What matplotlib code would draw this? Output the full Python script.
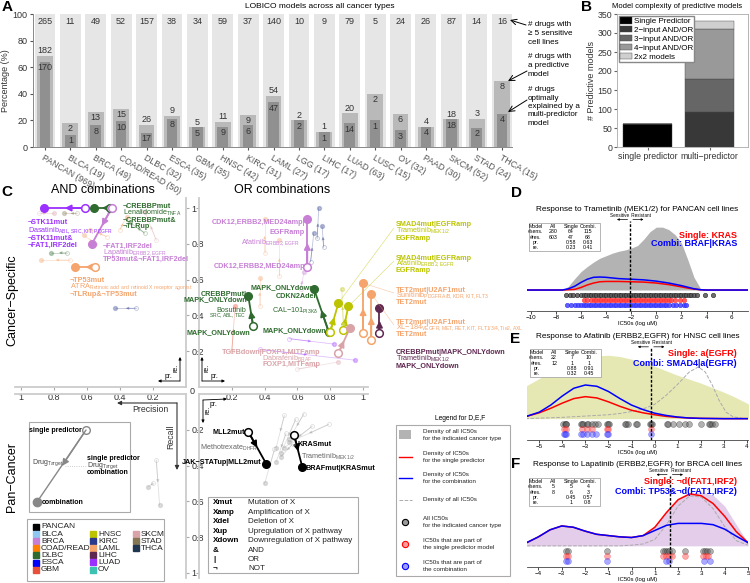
import numpy as np
import matplotlib.pyplot as plt
from matplotlib.patches import Rectangle, ConnectionPatch
from matplotlib.transforms import blended_transform_factory

plt.rcParams['font.family'] = ['Liberation Sans', 'DejaVu Sans']
plt.rcParams['mathtext.default'] = 'regular'

W, H = 750, 583

# ---------------- data: panel A
cancer_types = ['PANCAN', 'BLCA', 'BRCA', 'COAD/READ', 'DLBC', 'ESCA', 'GBM', 'HNSC', 'KIRC', 'LAML',
                'LGG', 'LIHC', 'LUAD', 'LUSC', 'OV', 'PAAD', 'SKCM', 'STAD', 'THCA']
n_cell_lines = [969, 19, 49, 50, 32, 35, 35, 42, 31, 27, 17, 17, 63, 15, 32, 30, 52, 24, 15]
n_drugs = [265, 11, 49, 52, 157, 38, 34, 59, 37, 140, 10, 9, 79, 5, 24, 26, 87, 14, 16]
n_predictive = [182, 2, 13, 15, 26, 9, 5, 11, 9, 54, 2, 1, 20, 2, 6, 4, 18, 3, 8]
n_multi = [170, 1, 8, 10, 17, 8, 5, 9, 6, 47, 2, 1, 14, 1, 3, 4, 18, 2, 4]

# ---------------- data: panel B
b_groups = ['single predictor', 'multi\u2212predictor']
complexity_labels = ['Single Predictor', '2\u2212input AND/OR', '3\u2212input AND/OR',
                     '4\u2212input AND/OR', '2x2 models']
single_pred = [60, 0]
two_input = [0, 93]
three_input = [0, 87]
four_input = [0, 130]
two_by_two = [0, 21]

# ---------------- data: panel C
colors = {'PANCAN': '#000000', 'BLCA': '#8ec7f0', 'BRCA': '#c77fd6', 'COAD/READ': '#ff8000',
          'DLBC': '#2f6b2f', 'ESCA': '#0000ff', 'GBM': '#e8503a', 'HNSC': '#bcc400',
          'KIRC': '#2b3a8c', 'LAML': '#f4a46c', 'LIHC': '#5e2750', 'LUAD': '#9b30ff',
          'OV': '#3cc2b0', 'SKCM': '#d9a3a8', 'STAD': '#857654', 'THCA': '#1f3550'}

and_types = ['LUAD', 'DLBC', 'BRCA', 'LAML']
and_single_pr = [0.61, 0.46, 0.45, 0.55]
and_single_re = [1.0, 1.0, 1.0, 0.67]
and_combi_pr = [0.86, 0.56, 0.57, 0.67]
and_combi_re = [1.0, 1.0, 0.8, 0.67]

or_types = ['BRCA', 'DLBC', 'DLBC', 'HNSC', 'HNSC', 'SKCM', 'LAML', 'LAML', 'LIHC']
or_single_pr = [0.66, 0.33, 0.79, 0.80, 0.88, 0.85, 1.0, 1.05, 1.10]
or_single_re = [0.67, 0.34, 0.31, 0.31, 0.32, 0.19, 0.30, 0.26, 0.30]
or_combi_pr = [0.66, 0.30, 0.70, 0.85, 0.91, 0.92, 1.0, 1.05, 1.10]
or_combi_re = [0.94, 0.51, 0.55, 0.47, 0.45, 0.33, 0.58, 0.52, 0.44]

pan_single_pr = [0.30, 0.58]
pan_single_re = [0.21, 0.23]
pan_combi_pr = [0.41, 0.63]
pan_combi_re = [0.39, 0.41]

and_faint = [('SKCM', 0.89, 0.97, 0.80, 0.97), ('STAD', 0.66, 0.97, 0.74, 0.97),
             ('LAML', 0.48, 0.84, 0.58, 0.88), ('LAML', 0.55, 0.80, 0.62, 0.85),
             ('DLBC', 0.72, 0.75, 0.82, 0.75), ('LAML', 0.70, 0.71, 0.88, 0.71),
             ('KIRC', 0.30, 0.44, 0.43, 0.44), ('DLBC', 0.25, 0.86, 0.34, 0.92),
             ('SKCM', 0.18, 0.82, 0.25, 0.98), ('LAML', 0.40, 0.88, 0.36, 0.95)]
or_faint = [('KIRC', 0.72, 0.83, 0.73, 1.0), ('KIRC', 0.68, 0.70, 0.70, 0.86),
            ('KIRC', 0.76, 0.78, 0.75, 0.90), ('BRCA', 0.62, 0.55, 0.64, 0.64),
            ('LAML', 0.40, 0.75, 0.40, 0.94), ('LAML', 0.49, 0.62, 0.49, 0.82),
            ('LAML', 0.37, 0.45, 0.37, 0.61), ('LUAD', 0.37, 0.21, 0.95, 0.15),
            ('LUAD', 0.55, 0.27, 0.82, 0.24), ('HNSC', 0.88, 0.35, 0.87, 0.55),
            ('GBM', 0.20, 0.20, 0.22, 0.45), ('SKCM', 0.60, 0.10, 0.85, 0.14)]
pan_faint = [(0.52, 0.12, 0.47, 0.30), (0.59, 0.14, 0.50, 0.33), (0.64, 0.11, 0.55, 0.25),
             (0.69, 0.18, 0.52, 0.30), (0.79, 0.17, 0.55, 0.27), (0.46, 0.31, 0.40, 0.50),
             (0.53, 0.22, 0.47, 0.38), (0.57, 0.28, 0.50, 0.35)]
pan_faint_left = [(0.18, 0.37, 0.16, 0.62), (0.20, 0.50, 0.23, 0.52)]

# ---------------- data: panels D, E, F
d_all_x = [-10.3, -7.5, -7, -6.5, -6, -5.5, -5, -4.5, -4, -3.5, -3, -2.5, -2, -1.5, -1, -0.5, 0, 0.5,
           1, 1.5, 2, 2.5, 3, 3.5, 4, 7.3]
d_all_y = [0, 0, 0.06, 0.18, 0.29, 0.37, 0.44, 0.50, 0.54, 0.58, 0.61, 0.63, 0.66, 0.70, 0.80, 0.92,
           0.99, 0.99, 0.95, 0.87, 0.74, 0.48, 0.20, 0.03, 0, 0]
d_red_x = [-10.3, -7.5, -6.5, -6, -5.5, -5, -4.5, -4, -3, -2, -1, 0, 1, 2, 2.5, 3, 3.5, 4, 7.3]
d_red_y = [0, 0, 0.01, 0.04, 0.08, 0.11, 0.13, 0.135, 0.135, 0.13, 0.125, 0.11, 0.085, 0.05, 0.03,
           0.015, 0.005, 0, 0]
d_blue_x = [-10.3, -7.5, -7, -6.5, -6, -5.5, -5, -4.5, -4, -3.5, -3, -2, -1, 0, 1, 2, 2.5, 3, 3.5, 4, 7.3]
d_blue_y = [0, 0, 0.02, 0.06, 0.12, 0.17, 0.20, 0.205, 0.20, 0.19, 0.18, 0.17, 0.16, 0.14, 0.11, 0.07,
            0.045, 0.02, 0.005, 0, 0]
d_pts_all = [-7.2, -6.9, -6.6, -6.3, -6.0, -5.8, -5.6, -5.4, -5.2, -5.0, -4.8, -4.6, -4.4, -4.2, -4.0,
             -3.8, -3.6, -3.4, -3.2, -3.0, -2.8, -2.6, -2.4, -2.2, -2.0, -1.8, -1.6, -1.4, -1.2, -1.0,
             -0.8, -0.6, -0.4, -0.2, 0.0, 0.2, 0.4, 0.6, 0.8, 1.0, 1.2, 1.4, 1.6, 1.8, 2.0, 2.2, 2.4,
             2.6, 2.8, 3.0, 3.2, 3.9, 4.5]
d_pts_single = [-5.8, -5.5, -5.2, -5.0, -4.8, -4.6, -4.4, -4.2, -4.0, -3.8, -3.6, -3.4, -3.2, -3.0,
                -2.8, -2.6, -2.4, -2.2, -2.0, -1.8, -1.6, -1.4, -1.2, -1.0, -0.8, -0.6, -0.4, -0.2,
                0.0, 0.2, 0.4, 0.6, 0.8, 1.0, 1.2, 1.5, 1.9, 2.2]
d_pts_combi = [-7.1, -6.8, -6.5, -6.2, -6.0, -5.8, -5.6, -5.4, -5.2, -5.0, -4.8, -4.6, -4.4, -4.2,
               -4.0, -3.8, -3.6, -3.4, -3.2, -3.0, -2.8, -2.6, -2.4, -2.2, -2.0, -1.8, -1.6, -1.4,
               -1.2, -1.0, -0.8, -0.6, -0.4, -0.2, 0.0, 0.2, 0.4, 0.6, 0.8, 1.0, 1.3, 1.6, 1.9, 2.2, 2.4]
d_thresh = -2.08
d_stats = [['Model', 'All', 'Single', 'Combi.'], ['#sens.', '280', '64', '115'],
           ['#res.', '603', '47', '68'], ['pr.', '', '0.58', '0.63'], ['re.', '', '0.23', '0.41']]

e_all_x = [-5.6, -5, -4.5, -4, -3.5, -3, -2.5, -2, -1.5, -1, -0.5, 0, 0.5, 1, 1.5, 2, 2.5, 3, 3.5, 4, 4.1]
e_all_y = [0.50, 0.62, 0.72, 0.80, 0.87, 0.93, 0.97, 0.98, 0.96, 0.92, 0.87, 0.81, 0.74, 0.67, 0.61,
           0.55, 0.48, 0.41, 0.33, 0.24, 0.22]
e_curve_x = [-5.6, -5, -4.5, -4, -3.5, -3, -2.5, -2, -1.5, -1, -0.5, 0, 0.5, 1, 1.5, 2, 3, 4.1]
e_red_y = [0.03, 0.09, 0.16, 0.24, 0.31, 0.34, 0.32, 0.26, 0.19, 0.13, 0.09, 0.06, 0.035, 0.02, 0.01,
           0.004, 0, 0]
e_blue_y = [0.03, 0.10, 0.21, 0.35, 0.47, 0.52, 0.50, 0.42, 0.31, 0.21, 0.14, 0.085, 0.05, 0.025,
            0.01, 0.004, 0, 0]
e_dash_x = [-5.6, -4, -3, -2, -1.5, -1, -0.5, 0, 0.5, 1.0, 1.5, 1.9, 2.2, 2.5, 2.8, 3.1, 3.4, 3.8, 4.1]
e_dash_y = [0.0, 0.02, 0.04, 0.06, 0.08, 0.11, 0.15, 0.22, 0.36, 0.53, 0.72, 0.80, 0.72, 0.52, 0.28,
            0.10, 0.03, 0.005, 0]
e_pts_all = [-3.95, -3.9, -3.85, -3.82, -3.2, -3.15, -3.1, -2.95, -2.9, -2.7, -2.6, -2.45, -2.05,
             -2.02, -1.98, -1.3, -1.25, -1.15, -0.8, -0.75, -0.18, -0.15, -0.12, 0.55, 0.6, 0.8, 1.05,
             1.3, 1.5, 2.0, 2.35, 2.4, 2.5, 2.6]
e_pts_single = [-3.93, -3.85, -3.15, -2.95, -2.7, -2.05, -2.0, -0.15]
e_pts_combi = [-3.93, -3.88, -3.85, -3.2, -3.1, -2.95, -2.7, -2.55, -2.05, -2.0, -0.15]
e_thresh = -0.15
e_stats = [['Model', 'All', 'Single', 'Combi.'], ['#sens.', '22', '7', '10'],
           ['#res.', '12', '1', '1'], ['pr.', '', '0.88', '0.91'], ['re.', '', '0.32', '0.45']]

f_curve_x = [-4.5, -4, -3.5, -3, -2.5, -2, -1.5, -1, -0.5, 0, 0.5, 1, 1.5, 2, 2.5, 3, 3.5, 4, 4.5, 5]
f_all_y = [0.05, 0.14, 0.25, 0.31, 0.29, 0.23, 0.18, 0.16, 0.14, 0.13, 0.16, 0.30, 0.53, 0.73, 0.82,
           0.84, 0.79, 0.62, 0.33, 0.05]
f_blue_y = [0.05, 0.14, 0.25, 0.31, 0.29, 0.23, 0.18, 0.16, 0.14, 0.13, 0.16, 0.24, 0.32, 0.35, 0.35,
            0.35, 0.33, 0.26, 0.15, 0.05]
f_red_y = [0.05, 0.14, 0.25, 0.31, 0.29, 0.23, 0.18, 0.16, 0.14, 0.13, 0.16, 0.29, 0.52, 0.72, 0.81,
           0.78, 0.66, 0.46, 0.22, 0.05]
f_dash_y = [0, 0, 0, 0, 0, 0, 0, 0, 0, 0.01, 0.03, 0.10, 0.33, 0.62, 0.78, 0.76, 0.58, 0.30, 0.08, 0.01]
f_pts_all = [-2.82, -2.72, -1.04, 1.36, 1.45, 1.52, 1.6, 1.72, 2.29, 3.05, 3.15, 3.25, 3.36]
f_pts_single = [-2.82, -2.72, -1.04, 1.36, 1.5, 1.6, 1.72, 2.29, 3.05, 3.2, 3.3]
f_pts_combi = [-2.82, -2.72, -1.04, 1.5, 1.6, 3.1, 3.36]
f_thresh = 1.64
f_stats = [['Model', 'All', 'Single', 'Combi.'], ['#sens.', '5', '5', '4'],
           ['#res.', '8', '6', '3'], ['pr.', '', '0.45', '0.57'], ['re.', '', '1', '0.8']]


fig = plt.figure(figsize=(W / 100, H / 100), dpi=100)


def px_axes(x0, y0, x1, y1, **kw):
    return fig.add_axes([x0 / W, 1 - y1 / H, (x1 - x0) / W, (y1 - y0) / H], **kw)


def sub(drug, target):
    return drug + r'$_{' + target.replace(' ', r'\ ') + '}$'


# overlay in pixel coords for free text, boxes and panel letters
ov = px_axes(0, 0, W, H, zorder=10)
ov.set_xlim(0, W)
ov.set_ylim(H, 0)
ov.axis('off')

# ======================= Panel A
axA = px_axes(33, 14, 512, 147)
xa = np.arange(len(cancer_types))
tot = np.array(n_drugs, float)
pred_pct = 100 * np.array(n_predictive) / tot
multi_pct = 100 * np.array(n_multi) / tot
axA.bar(xa, np.full(len(xa), 100.0), width=0.82, color='#e6e6e6', zorder=1)
axA.bar(xa, pred_pct, width=0.62, color='#b9b9b9', zorder=2)
axA.bar(xa, multi_pct, width=0.42, color='#909090', zorder=3)
for i in xa:
    axA.text(i, 94.5, str(n_drugs[i]), ha='center', va='center', fontsize=6.5, color='#333', zorder=5)
    if pred_pct[i] - multi_pct[i] < 7.8:
        axA.text(i, pred_pct[i] + 0.6, str(n_predictive[i]), ha='center', va='bottom',
                 fontsize=6.5, color='#333', zorder=5)
    else:
        axA.text(i, pred_pct[i] - 1, str(n_predictive[i]), ha='center', va='top',
                 fontsize=6.5, color='#333', zorder=5)
    axA.text(i, multi_pct[i] - 1, str(n_multi[i]), ha='center', va='top', fontsize=6.5,
             color='#333', zorder=5)
axA.set_xlim(-0.47, 18.39)
axA.set_ylim(0, 100)
axA.set_yticks(range(0, 101, 20))
axA.set_xticks(xa)
axA.set_xticklabels([f'{c} ({n})' for c, n in zip(cancer_types, n_cell_lines)], rotation=-30,
                    ha='left', va='top', rotation_mode='anchor', fontsize=6.3, color='#333')
axA.tick_params(axis='y', labelsize=6.5, length=2.5, colors='#555', labelcolor='#333', pad=1.5)
axA.tick_params(axis='x', length=2.5, colors='#555', pad=2)
for s in ['top', 'right']:
    axA.spines[s].set_visible(False)
for s in ['left', 'bottom']:
    axA.spines[s].set_color('#888')
    axA.spines[s].set_linewidth(0.7)
axA.set_ylabel('Percentage (%)', fontsize=6.5, color='#333')
axA.yaxis.set_label_coords(-0.048, 0.5)
ov.text(320, 7, 'LOBICO models across all cancer types', ha='center', va='center', fontsize=6)

ov.text(528, 21, '# drugs with\n\u2265 5 sensitive\ncell lines', fontsize=5.8, va='top',
        linespacing=1.35, ha='left')
ov.text(528, 53, '# drugs with\na predictive\nmodel', fontsize=5.8, va='top', linespacing=1.35)
ov.text(528, 86, '# drugs\noptimally\nexplained by a\nmulti-predictor\nmodel', fontsize=5.8,
        va='top', linespacing=1.3)
arrow_kw = dict(arrowstyle='->', lw=0.7, color='k', shrinkA=0, shrinkB=0)
ov.annotate('', xy=(510, 20), xytext=(526, 25), arrowprops=arrow_kw)
ov.annotate('', xy=(508, 81), xytext=(527, 71), arrowprops=arrow_kw)
ov.annotate('', xy=(508, 112), xytext=(527, 100), arrowprops=arrow_kw)

# ======================= Panel B
axB = px_axes(617, 14, 748, 147)
xb = np.array([1, 2])
bottom = np.zeros(2)
for lab, vals, col in zip(complexity_labels,
                          [single_pred, two_input, three_input, four_input, two_by_two],
                          ['#000000', '#383838', '#666666', '#999999', '#cfcfcf']):
    axB.bar(xb, vals, 0.79, bottom=bottom, color=col, label=lab, edgecolor='#444', linewidth=0.3)
    bottom += np.array(vals)
axB.set_xlim(0.5, 2.62)
axB.set_ylim(0, 350)
axB.set_yticks(range(0, 351, 50))
axB.set_xticks(xb)
axB.set_xticklabels(b_groups, fontsize=6)
axB.tick_params(labelsize=6.3, length=2, colors='#666', labelcolor='#333', pad=1.5)
for s in axB.spines.values():
    s.set_color('#aaa')
    s.set_linewidth(0.6)
axB.set_ylabel('# Predictive models', fontsize=6.5, labelpad=1, color='#333')
axB.legend(loc='upper left', fontsize=5.8, handlelength=1.5, handleheight=0.9, borderpad=0.15,
           labelspacing=0.1, handletextpad=0.25, fancybox=False, edgecolor='#888',
           borderaxespad=0.2, framealpha=1)
ov.text(677, 6, 'Model complexity of predictive models', ha='center', va='center', fontsize=5.5)

# ======================= Panel C
axUL = px_axes(15, 198, 186, 387)
axUR = px_axes(199, 198, 368, 387)
axLL = px_axes(15, 394, 186, 578)
axLR = px_axes(199, 394, 368, 578)
for ax in (axUL, axLL):
    ax.set_xlim(1.036, 0)
for ax in (axUR, axLR):
    ax.set_xlim(0, 1.03)
axUL.set_ylim(0, 1.056)
axUR.set_ylim(0, 1.056)
axLL.set_ylim(1.028, 0)
axLR.set_ylim(1.028, 0)

ticks = [0.2, 0.4, 0.6, 0.8, 1.0]
ticklabs = ['0.2', '0.4', '0.6', '0.8', '1']
for ax, vis in ((axUL, ['right', 'bottom']), (axUR, ['left', 'bottom']),
                (axLL, ['right', 'top']), (axLR, ['left', 'top'])):
    for s in ax.spines:
        ax.spines[s].set_visible(s in vis)
        ax.spines[s].set_color('#cccccc')
        ax.spines[s].set_linewidth(1.3)
    ax.patch.set_alpha(0)
    ax.tick_params(colors='#aaa', labelcolor='#333', labelsize=6.5, length=2.5, pad=1.5)
    ax.set_yticks(ticks)
    ax.set_yticklabels(ticklabs)
for ax in (axUL, axLL):
    ax.yaxis.tick_right()
for ax in (axUR, axLR):
    ax.tick_params(axis='y', labelleft=False)
for ax in (axUL, axUR):
    ax.set_xticks(ticks)
    ax.set_xticklabels(ticklabs)
for ax in (axLL, axLR):
    ax.set_xticks([])
ov.text(192, 391, '0', fontsize=6.5, ha='center', va='center', color='#333')


def track(ax, spr, sre, cpr, cre, color, faint=False):
    a = 0.3 if faint else 1.0
    ms = 2.8 if faint else 5.5
    lw = 0.6 if faint else 1.3
    ax.plot([spr, cpr], [sre, cre], color=color, lw=lw, alpha=a, clip_on=False, zorder=3)
    mid = ((spr + cpr) / 2, (sre + cre) / 2)
    ax.annotate('', xy=mid, xytext=(spr, sre), annotation_clip=False,
                arrowprops=dict(arrowstyle='-|>', color=color, lw=lw, alpha=a, shrinkA=0,
                                shrinkB=0, mutation_scale=4 if faint else 9))
    ax.plot(spr, sre, 'o', mfc='white', mec=color, mew=0.6 if faint else 1.1, ms=ms, alpha=a,
            clip_on=False, zorder=4)
    ax.plot(cpr, cre, 'o', color=color, ms=ms, alpha=a, clip_on=False, zorder=4)


for t, a1, b1, a2, b2 in and_faint:
    track(axUL, a1, b1, a2, b2, colors[t], faint=True)
for t, a1, b1, a2, b2 in or_faint:
    track(axUR, a1, b1, a2, b2, colors[t], faint=True)
for a1, b1, a2, b2 in pan_faint:
    track(axLR, a1, b1, a2, b2, '#999999', faint=True)
for a1, b1, a2, b2 in pan_faint_left:
    track(axLL, a1, b1, a2, b2, '#999999', faint=True)
for i, t in enumerate(and_types):
    track(axUL, and_single_pr[i], and_single_re[i], and_combi_pr[i], and_combi_re[i], colors[t])
for i, t in enumerate(or_types):
    track(axUR, or_single_pr[i], or_single_re[i], or_combi_pr[i], or_combi_re[i], colors[t])
for i in range(len(pan_single_pr)):
    track(axLR, pan_single_pr[i], pan_single_re[i], pan_combi_pr[i], pan_combi_re[i], 'k')

c_labels = [
    (28, 223, '\u00acSTK11mut', 'LUAD', 'bold', 'left'),
    (28, 231, sub('Dasatinib', 'ABL,SRC,KIT,PDGFR'), 'LUAD', 'normal', 'left'),
    (28, 238, '\u00acSTK11mut&', 'LUAD', 'bold', 'left'),
    (28, 245, '\u00acFAT1,IRF2del', 'LUAD', 'bold', 'left'),
    (123, 207, '\u00acCREBBPmut', 'DLBC', 'bold', 'left'),
    (123, 213, sub('Lenalidomide', 'TNFA'), 'DLBC', 'normal', 'left'),
    (123, 220, '\u00acCREBBPmut&', 'DLBC', 'bold', 'left'),
    (123, 227, '\u00acTLRup', 'DLBC', 'bold', 'left'),
    (103, 246, '\u00acFAT1,IRF2del', 'BRCA', 'bold', 'left'),
    (103, 252, sub('Lapatinib', 'ERBB2,EGFR'), 'BRCA', 'normal', 'left'),
    (103, 259, 'TP53mut&\u00acFAT1,IRF2del', 'BRCA', 'bold', 'left'),
    (70, 281, '\u00acTP53mut', 'LAML', 'bold', 'left'),
    (70, 287, sub('ATRA', 'Retinoic acid and retinoid X receptor agonist'), 'LAML', 'normal', 'left'),
    (70, 294, '\u00acTLRup&\u00acTP53mut', 'LAML', 'bold', 'left'),
    (305, 222, 'CDK12,ERBB2,MED24amp|', 'BRCA', 'bold', 'right'),
    (305, 232, 'EGFRamp', 'BRCA', 'bold', 'right'),
    (300, 243, sub('Afatinib', 'ERBB2,EGFR'), 'BRCA', 'normal', 'right'),
    (305, 267, 'CDK12,ERBB2,MED24amp', 'BRCA', 'bold', 'right'),
    (247, 294, 'CREBBPmut|', 'DLBC', 'bold', 'right'),
    (247, 300, 'MAPK_ONLYdown', 'DLBC', 'bold', 'right'),
    (246, 310, 'Bosutinib', 'DLBC', 'normal', 'right'),
    (246, 316, r'$_{SRC,ABL,TEC}$', 'DLBC', 'normal', 'right'),
    (250, 333, 'MAPK_ONLYdown', 'DLBC', 'bold', 'right'),
    (316, 288, 'MAPK_ONLYdown|', 'DLBC', 'bold', 'right'),
    (316, 296, 'CDKN2Adel', 'DLBC', 'bold', 'right'),
    (318, 311, sub('CAL\u2212101', 'PI3K\u03b4'), 'DLBC', 'normal', 'right'),
    (326, 331, 'MAPK_ONLYdown', 'DLBC', 'bold', 'right'),
    (320, 352, 'TGFBdown|FOXP1,MITFamp', 'SKCM', 'bold', 'right'),
    (313, 359, sub('Dabrafenib', 'BRAF'), 'SKCM', 'normal', 'right'),
    (320, 365, 'FOXP1,MITFamp', 'SKCM', 'bold', 'right'),
    (396, 225, 'SMAD4mut|EGFRamp', 'HNSC', 'bold', 'left'),
    (396, 231, sub('Trametinib', 'MEK1/2'), 'HNSC', 'normal', 'left'),
    (396, 238, 'EGFRamp', 'HNSC', 'bold', 'left'),
    (396, 258, 'SMAD4mut|EGFRamp', 'HNSC', 'bold', 'left'),
    (396, 264, sub('Afatinib', 'ERBB2,EGFR'), 'HNSC', 'normal', 'left'),
    (396, 270, 'EGFRamp', 'HNSC', 'bold', 'left'),
    (396, 290, 'TET2mut|U2AF1mut', 'LAML', 'bold', 'left'),
    (396, 296, sub('Sunitinib', 'PDGFRA/B,KDR,KIT,FLT3'), 'LAML', 'normal', 'left'),
    (396, 302, 'TET2mut', 'LAML', 'bold', 'left'),
    (396, 322, 'TET2mut|U2AF1mut', 'LAML', 'bold', 'left'),
    (396, 328, sub('XL\u2212184', 'VEGFR,MET,RET,KIT,FLT1/3/4,Tie2,AXL'), 'LAML', 'normal', 'left'),
    (396, 334, 'TET2mut', 'LAML', 'bold', 'left'),
    (396, 353, 'CREBBPmut|MAPK_ONLYdown', 'LIHC', 'bold', 'left'),
    (396, 359, sub('Trametinib', 'MEK1/2'), 'LIHC', 'normal', 'left'),
    (396, 366, 'MAPK_ONLYdown', 'LIHC', 'bold', 'left'),
    (245, 432, 'MLL2mut', 'PANCAN', 'bold', 'right'),
    (258, 448, sub('Methotrexate', 'DHFR'), '#666666', 'normal', 'right'),
    (262, 463, 'JAK\u2212STATup|MLL2mut', 'PANCAN', 'bold', 'right'),
    (298, 445, 'KRASmut', 'PANCAN', 'bold', 'left'),
    (301, 457, sub('Trametinib', 'MEK1/2'), '#666666', 'normal', 'left'),
    (306, 468, 'BRAFmut|KRASmut', 'PANCAN', 'bold', 'left'),
]
for x, y, s, c, w, ha in c_labels:
    ov.text(x, y, s, color=colors.get(c, c), fontweight=w, ha=ha, va='center', fontsize=5.2)

# leader lines from right hand labels
for (lx, ly), i in (((394, 228), 3), ((394, 261), 4), ((394, 293), 6), ((394, 325), 7)):
    cp = ConnectionPatch(xyA=(lx, ly), coordsA=ov.transData,
                         xyB=(or_combi_pr[i], or_combi_re[i]), coordsB=axUR.transData,
                         color=colors[or_types[i]], lw=0.4, alpha=0.6, zorder=2)
    fig.add_artist(cp)

ov.text(103, 190, 'AND combinations', ha='center', va='center', fontsize=9)
ov.text(282, 190, 'OR combinations', ha='center', va='center', fontsize=9)
ov.text(12, 300, 'Cancer\u2212Specific', rotation=90, ha='center', va='center', fontsize=9)
ov.text(12, 477, 'Pan\u2212Cancer', rotation=90, ha='center', va='center', fontsize=9)

# small direction arrows
small = dict(arrowstyle='-|>', lw=0.6, color='k', mutation_scale=4, shrinkA=0, shrinkB=0)
ov.annotate('', xy=(180, 357), xytext=(180, 381), arrowprops=small)
ov.annotate('', xy=(158, 381), xytext=(180, 381), arrowprops=small)
ov.text(176, 368, 're.', rotation=90, fontsize=5, ha='center', va='center')
ov.text(168, 376, 'pr.', fontsize=5, ha='center', va='center')
ov.annotate('', xy=(202, 357), xytext=(202, 381), arrowprops=small)
ov.annotate('', xy=(225, 381), xytext=(202, 381), arrowprops=small)
ov.text(207, 368, 're.', rotation=90, fontsize=5, ha='center', va='center')
ov.text(214, 376, 'pr.', fontsize=5, ha='center', va='center')
ov.annotate('', xy=(203, 423), xytext=(203, 400), arrowprops=small)
ov.annotate('', xy=(227, 399), xytext=(203, 400), arrowprops=small)
ov.text(208, 410, 're.', rotation=90, fontsize=5, ha='center', va='center')
ov.text(213, 404, 'pr.', fontsize=5, ha='center', va='center')
big = dict(arrowstyle='-|>', lw=0.8, color='#333', mutation_scale=6, shrinkA=0, shrinkB=0)
ov.annotate('', xy=(117, 403), xytext=(177, 403), arrowprops=big)
ov.annotate('', xy=(177, 470), xytext=(177, 403), arrowprops=big)
ov.text(150, 409, 'Precision', fontsize=6.3, ha='center', va='center', color='#333')
ov.text(171, 437, 'Recall', fontsize=6.3, ha='center', va='center', rotation=90, color='#333')

# explanation box
ov.add_patch(Rectangle((29, 422), 101, 90, fc='white', ec='#aaaaaa', lw=0.8))
ov.plot([86, 37], [430, 502], color='#888', lw=1.0)
ov.annotate('', xy=(62, 466), xytext=(86, 430),
            arrowprops=dict(arrowstyle='-|>', color='#888', lw=1.0, mutation_scale=10,
                            shrinkA=0, shrinkB=0))
ov.plot(86, 430, 'o', mfc='white', mec='#888', mew=1.0, ms=5.5)
ov.plot(37, 502, 'o', color='#888', ms=6)
ov.plot([65, 86], [466, 466], color='#bbb', lw=0.6, ls=':')
ov.text(82, 430, 'single predictor', fontweight='bold', fontsize=5, ha='right', va='center')
ov.text(32, 463, sub('Drug', 'Target'), fontsize=5, ha='left', va='center', color='#444')
ov.text(42, 502, 'combination', fontweight='bold', fontsize=5, ha='left', va='center')
ov.text(87, 459, 'single predictor', fontweight='bold', fontsize=5, ha='left', va='center')
ov.text(87, 466, sub('Drug', 'Target'), fontsize=5, ha='left', va='center', color='#444')
ov.text(87, 473, 'combination', fontweight='bold', fontsize=5, ha='left', va='center')

# cancer colour legend
ov.add_patch(Rectangle((27, 519), 137, 62, fc='white', ec='#aaaaaa', lw=0.8))
legend_cols = [['PANCAN', 'BLCA', 'BRCA', 'COAD/READ', 'DLBC', 'ESCA', 'GBM'],
               ['HNSC', 'KIRC', 'LAML', 'LIHC', 'LUAD', 'OV'],
               ['SKCM', 'STAD', 'THCA']]
for col, x0, y0 in zip(legend_cols, [36, 93, 136], [527, 534, 534]):
    for j, name in enumerate(col):
        ov.plot(x0, y0 + 7.1 * j, 's', color=colors[name], ms=4)
        ov.text(x0 + 5, y0 + 7.1 * j, name, fontsize=6, va='center', ha='left', color='#222')

# abbreviation table
ov.add_patch(Rectangle((208, 497), 150, 76, fc='white', ec='#aaaaaa', lw=0.8))
abbrev = [('Xmut', 'Mutation of X'), ('Xamp', 'Amplification of X'), ('Xdel', 'Deletion of X'),
          ('Xup', 'Upregulation of X pathway'), ('Xdown', 'Downregulation of X pathway'),
          ('&', 'AND'), ('|', 'OR'), ('\u00ac', 'NOT')]
for j, (k, v) in enumerate(abbrev):
    ov.text(213, 503 + 9.4 * j, k, fontweight='bold', fontsize=5.8, va='center')
    ov.text(248, 503 + 9.4 * j, v, fontsize=5.8, va='center', color='#222')

# legend for D,E,F
ov.text(460, 418, 'Legend for D,E,F', fontsize=4.8, ha='center', va='center')
ov.add_patch(Rectangle((396, 425), 114, 151, fc='white', ec='#aaaaaa', lw=0.8))
ov.add_patch(Rectangle((399, 430), 12, 9, fc='#b3b3b3', ec='none'))
ov.plot([399, 412], [457, 457], color='red', lw=1)
ov.plot([399, 412], [478, 478], color='blue', lw=1)
ov.plot([399, 412], [500, 500], color='#aaa', lw=0.7, ls='--')
ov.plot(405, 522, 'o', mfc='#999', mec='k', ms=4.5, mew=0.8)
ov.plot(405, 544, 'o', mfc='#ff9a9a', mec='red', ms=4.5, mew=0.8)
ov.plot(405, 566, 'o', mfc='#9a9aff', mec='blue', ms=4.5, mew=0.8)
for y, s in ((435, 'Density of all IC50s\nfor the indicated cancer type'),
             (457, 'Density of IC50s\nfor the single predictor'),
             (478, 'Density of IC50s\nfor the combination'),
             (500, 'Density of all IC50s'),
             (522, 'All IC50s\nfor the indicated cancer type'),
             (544, 'IC50s that are part of\nthe single predictor model'),
             (566, 'IC50s that are part of\nthe combination')):
    ov.text(423, y, s, fontsize=4.5, va='center', ha='left', linespacing=1.5, color='#222')


# ======================= Panels D, E, F
def density_panel(ax, xlim, xticks, fill_x, fill_y, fill_color, red_x, red_y, blue_x, blue_y,
                  dash_x, dash_y, pts, thresh, stats, title, single_txt, combi_txt, lab_y,
                  pt_size, pt_alpha, table_px):
    ax.set_xlim(*xlim)
    ax.set_ylim(-0.33, 1.37)
    ax.fill_between(fill_x, 0, fill_y, color=fill_color, lw=0, zorder=1)
    if dash_x is not None:
        ax.plot(dash_x, dash_y, color='#aaaaaa', lw=0.7, ls='--', zorder=2)
    ax.plot(red_x, red_y, color='red', lw=1.1, zorder=3)
    ax.plot(blue_x, blue_y, color='blue', lw=1.1, zorder=4)
    ax.plot([thresh, thresh], [-0.33, 1.09], color='k', lw=1.0, ls=(0, (2, 1.2)), zorder=6)
    for vals, yrow, fc, ec in zip(pts, [-0.075, -0.155, -0.235],
                                  ['#555555', '#ff4444', '#4444ff'], ['#111', '#ff2222', '#2222ff']):
        ax.scatter(vals, np.full(len(vals), yrow), s=pt_size, facecolor=fc, edgecolor=ec,
                   linewidth=0.4, alpha=pt_alpha, zorder=5, clip_on=False)
    for s in ['top', 'right', 'left']:
        ax.spines[s].set_visible(False)
    ax.spines['bottom'].set_linewidth(0.6)
    ax.spines['bottom'].set_color('#444')
    ax.set_yticks([])
    ax.set_xticks(xticks)
    ax.set_xticklabels([str(t).replace('-', '\u2212') for t in xticks])
    ax.tick_params(axis='x', labelsize=4.5, length=2, pad=1, width=0.5)
    ax.set_xlabel('IC50s (log uM)', fontsize=4.3, labelpad=0.5)
    ax.patch.set_alpha(0)
    ax.text(np.mean(xlim), 1.27, title, ha='center', va='center', fontsize=5.9)
    span = (xlim[1] - xlim[0]) * 0.06
    ax.text(thresh, 1.17, 'Sensitive ', ha='right', va='center', fontsize=3.3)
    ax.text(thresh, 1.17, ' Resistant', ha='left', va='center', fontsize=3.3)
    sm = dict(arrowstyle='-|>', lw=0.5, color='k', mutation_scale=3, shrinkA=0, shrinkB=0)
    ax.annotate('', xy=(thresh - span, 1.11), xytext=(thresh - span * 0.2, 1.11), arrowprops=sm)
    ax.annotate('', xy=(thresh + span, 1.11), xytext=(thresh + span * 0.2, 1.11), arrowprops=sm)
    tr = blended_transform_factory(ax.transAxes, ax.transData)
    ax.text(0.95, lab_y[0], single_txt, color='red', fontweight='bold', fontsize=6.5,
            ha='right', va='center', transform=tr, zorder=7)
    ax.text(0.95, lab_y[1], combi_txt, color='blue', fontweight='bold', fontsize=6.5,
            ha='right', va='center', transform=tr, zorder=7)
    x0, y0 = table_px
    ov.add_patch(Rectangle((x0, y0), 71, 28, fc='white', ec='#999', lw=0.5))
    for r, row in enumerate(stats):
        for c, val in enumerate(row):
            ov.text(x0 + [7, 24, 42, 59][c], y0 + 3.3 + 5.4 * r, val, fontsize=3.8,
                    ha='center', va='center')


axD = px_axes(527, 203, 748, 311)
density_panel(axD, (-10.3, 7.3), [-10, -8, -6, -4, -2, 0, 2, 4, 6], d_all_x, d_all_y, '#b3b3b3',
              d_red_x, d_red_y, d_blue_x, d_blue_y, None, None,
              [d_pts_all, d_pts_single, d_pts_combi], d_thresh, d_stats,
              'Response to Trametinib (MEK1/2) for PANCAN cell lines', 'Single: KRAS',
              'Combi: BRAF|KRAS', (0.86, 0.73), 10, 0.85, (529, 223))

axE = px_axes(527, 330, 748, 440)
density_panel(axE, (-5.53, 4.05), [-5, -4, -3, -2, -1, 0, 1, 2, 3, 4], e_all_x, e_all_y, '#e6e8b4',
              e_curve_x, e_red_y, e_curve_x, e_blue_y, e_dash_x, e_dash_y,
              [e_pts_all, e_pts_single, e_pts_combi], e_thresh, e_stats,
              'Response to Afatinib (ERBB2,EGFR) for HNSC cell lines', 'Single: a(EGFR)',
              'Combi: SMAD4|a(EGFR)', (1.0, 0.86), 18, 0.45, (530, 349))

axF = px_axes(527, 458, 748, 567)
density_panel(axF, (-4.49, 5.0), [-4, -3, -2, -1, 0, 1, 2, 3, 4, 5], f_curve_x, f_all_y, '#e3cdea',
              f_curve_x, f_red_y, f_curve_x, f_blue_y, f_curve_x, f_dash_y,
              [f_pts_all, f_pts_single, f_pts_combi], f_thresh, f_stats,
              'Response to Lapatinib (ERBB2,EGFR) for BRCA cell lines',
              'Single: \u00acd(FAT1,IRF2)', 'Combi: TP53&\u00acd(FAT1,IRF2)', (1.01, 0.85), 18, 0.45,
              (529, 478))

# panel letters
for lab, x, y in (('A', 7, 7), ('B', 586, 7), ('C', 7, 192), ('D', 517, 193), ('E', 515, 339),
                  ('F', 516, 464)):
    ov.text(x, y, lab, fontsize=11, fontweight='bold', ha='center', va='center')

fig.savefig('out.png', dpi=100)
